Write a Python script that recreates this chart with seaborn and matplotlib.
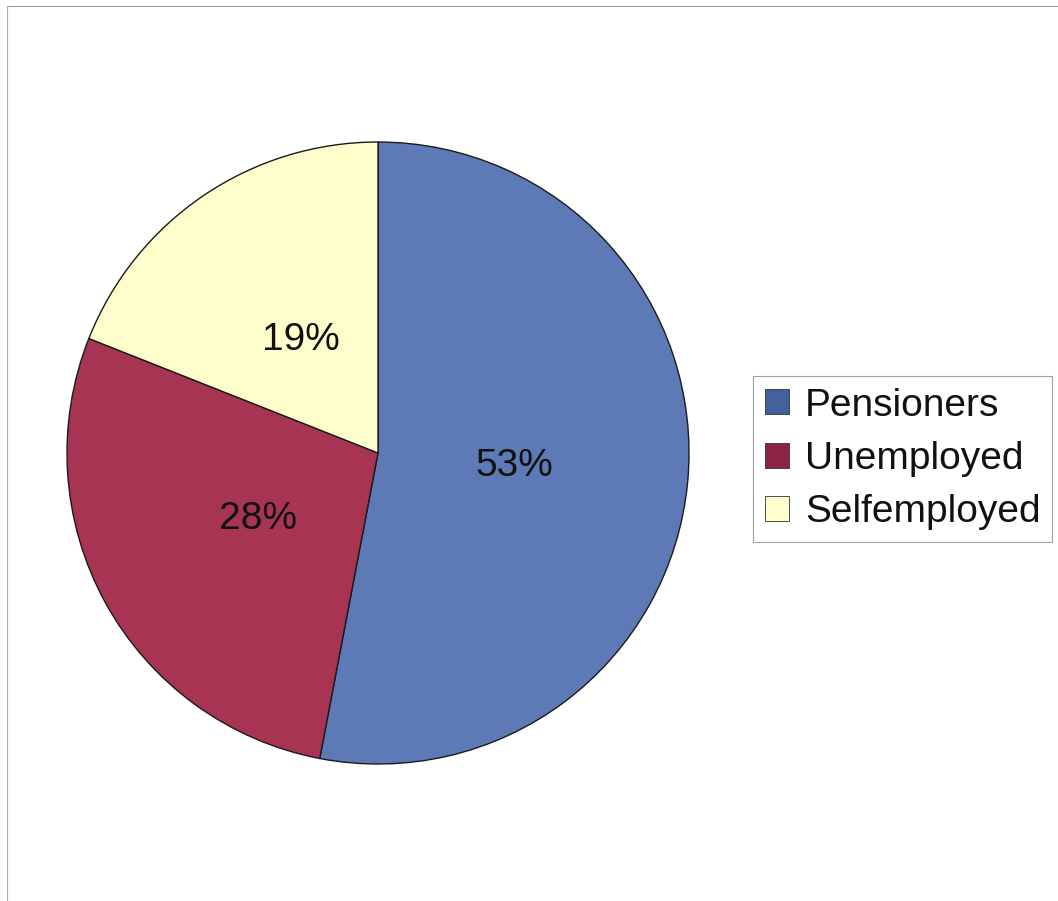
import matplotlib
matplotlib.use('Agg')
import matplotlib.pyplot as plt
import seaborn as sns
from matplotlib.patches import Patch
from matplotlib.lines import Line2D

categories = ['Pensioners', 'Unemployed', 'Selfemployed']
shares = [53, 28, 19]
wedge_colors = ['#5d79b6', '#a63452', '#fefdcc']
legend_colors = ['#41609c', '#8c2442', '#fefdcc']

sns.set_theme(style='white')
plt.rcParams['font.family'] = ['Liberation Sans', 'DejaVu Sans']

fig = plt.figure(figsize=(10.58, 9.01), dpi=100)
fig.patch.set_facecolor('white')

# faint frame like the scanned original
fig.add_artist(Line2D([7/1058, 1.0], [1 - 6/901, 1 - 6/901], color='#9a9a9a', lw=0.8))
fig.add_artist(Line2D([7/1058, 7/1058], [0.0, 1 - 6/901], color='#b0b0b0', lw=0.8))

cx, cy, r = 378, 453, 311
ax = fig.add_axes([(cx - r) / 1058, (901 - cy - r) / 901, 2 * r / 1058, 2 * r / 901])
palette = sns.color_palette(wedge_colors)
wedges, texts, autotexts = ax.pie(
    shares, colors=palette, startangle=90, counterclock=False,
    autopct='%1.0f%%', pctdistance=0.44,
    wedgeprops=dict(edgecolor='#1a1a1a', linewidth=1.0),
    textprops=dict(fontsize=28, color='#111111'))
ax.set_xlim(-1, 1)
ax.set_ylim(-1, 1)
ax.set_aspect('equal')
ax.axis('off')

handles = [Patch(facecolor=c, edgecolor='#333333', linewidth=0.6) for c in legend_colors]
leg = fig.legend(handles, categories, loc='center left',
                 bbox_to_anchor=(753/1058, 1 - 459/901),
                 fontsize=28, frameon=True, fancybox=False, labelcolor='#111111',
                 handlelength=0.62, handleheight=0.62, handletextpad=0.42,
                 labelspacing=0.45, borderpad=0.3, borderaxespad=0)
leg.get_frame().set_edgecolor('#8a8a8a')
leg.get_frame().set_linewidth(0.8)

fig.savefig('out.png', dpi=100, facecolor='white')
